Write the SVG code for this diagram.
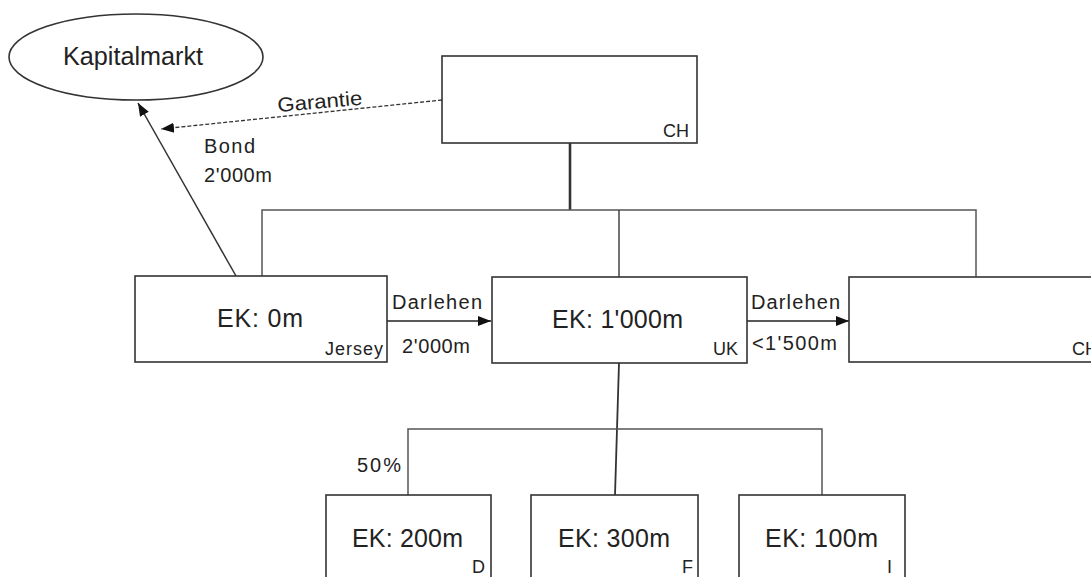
<svg xmlns="http://www.w3.org/2000/svg" width="1091" height="577" viewBox="0 0 1091 577">
<style>
text{font-family:"Liberation Sans",Arial,sans-serif;fill:#222}
.box{fill:#fff;stroke:#333;stroke-width:1.6}
.big{font-size:25px}
.tag{font-size:18px}
.lbl{font-size:20px}
.ln{fill:none;stroke:#444;stroke-width:1.5}
</style>
<defs>
<marker id="ah" markerUnits="userSpaceOnUse" markerWidth="14" markerHeight="12" refX="13" refY="5" orient="auto" viewBox="0 0 14 10">
<path d="M0,0 L13,5 L0,10 z" fill="#111"/>
</marker>
</defs>
<rect width="1091" height="577" fill="#fff"/>
<g id="connectors">
<line class="ln" x1="570" y1="143" x2="570" y2="210" style="stroke:#333;stroke-width:2.6"/>
<polyline class="ln" points="262,276 262,210 976,210 976,277" style="stroke:#555"/>
<line class="ln" x1="619" y1="210" x2="619" y2="277"/>
<line class="ln" x1="619" y1="363" x2="615" y2="495" style="stroke:#333;stroke-width:1.8"/>
<polyline class="ln" points="408,495 408,429 822,429 822,495" style="stroke:#555"/>
<line x1="442" y1="100" x2="161" y2="129" stroke="#333" stroke-width="1.3" stroke-dasharray="4,2" marker-end="url(#ah)"/>
<line x1="236" y1="276" x2="138" y2="103" stroke="#333" stroke-width="1.5" marker-end="url(#ah)"/>
<line x1="387" y1="321" x2="491" y2="321" stroke="#222" stroke-width="1.5" marker-end="url(#ah)"/>
<line x1="747" y1="321" x2="849" y2="321" stroke="#222" stroke-width="1.5" marker-end="url(#ah)"/>
<text class="lbl" x="278" y="112" textLength="85" lengthAdjust="spacingAndGlyphs" transform="rotate(-5 278 112)">Garantie</text>
<text class="lbl" x="204" y="153" textLength="51">Bond</text>
<text class="lbl" x="204" y="182" textLength="68">2'000m</text>
<text class="lbl" x="392" y="309" textLength="90">Darlehen</text>
<text class="lbl" x="402" y="353" textLength="68">2'000m</text>
<text class="lbl" x="751" y="309" textLength="89">Darlehen</text>
<text class="lbl" x="752" y="350" textLength="85">&lt;1'500m</text>
<text class="lbl" x="357" y="472" textLength="44">50%</text>
</g>
<g id="kapitalmarkt">
<ellipse cx="136" cy="57" rx="127" ry="43" fill="#fff" stroke="#333" stroke-width="1.6"/>
<text class="big" x="63" y="65" textLength="140" lengthAdjust="spacingAndGlyphs">Kapitalmarkt</text>
</g>
<g id="ch-top">
<rect class="box" x="442" y="56" width="255" height="87"/>
<text class="tag" x="663" y="137" textLength="26">CH</text>
</g>
<g id="jersey">
<rect class="box" x="135" y="276" width="252" height="86"/>
<text class="big" x="217" y="327" textLength="86">EK: 0m</text>
<text class="tag" x="325" y="355" textLength="58">Jersey</text>
</g>
<g id="uk">
<rect class="box" x="492" y="277" width="255" height="86"/>
<text class="big" x="552" y="328" textLength="131">EK: 1'000m</text>
<text class="tag" x="713" y="355" textLength="25">UK</text>
</g>
<g id="ch-right">
<rect class="box" x="849" y="277" width="257" height="85"/>
<text class="tag" x="1072" y="355" textLength="26">CH</text>
</g>
<g id="d">
<rect class="box" x="326" y="495" width="165" height="100"/>
<text class="big" x="352" y="547" textLength="111">EK: 200m</text>
<text class="tag" x="472" y="573">D</text>
</g>
<g id="f">
<rect class="box" x="531" y="495" width="167" height="100"/>
<text class="big" x="558" y="547" textLength="112">EK: 300m</text>
<text class="tag" x="682" y="573">F</text>
</g>
<g id="i">
<rect class="box" x="739" y="495" width="166" height="100"/>
<text class="big" x="765" y="547" textLength="113">EK: 100m</text>
<text class="tag" x="887" y="573">I</text>
</g>
</svg>
